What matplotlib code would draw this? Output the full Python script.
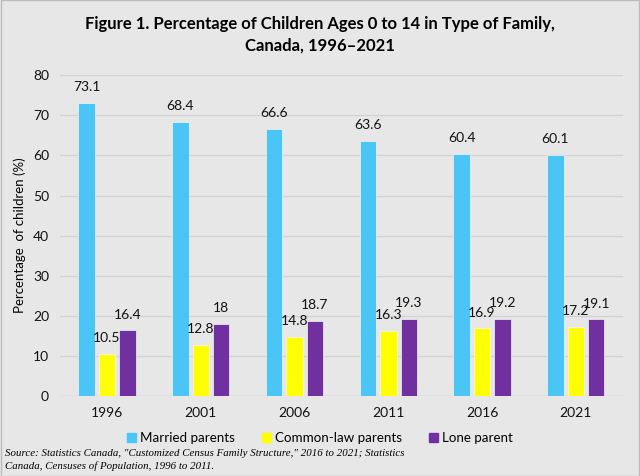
import numpy as np
import matplotlib
matplotlib.use('Agg')
import matplotlib.pyplot as plt
from matplotlib.patches import Patch

years = ['1996', '2001', '2006', '2011', '2016', '2021']
married = [73.1, 68.4, 66.6, 63.6, 60.4, 60.1]
common_law = [10.5, 12.8, 14.8, 16.3, 16.9, 17.2]
lone = [16.4, 18, 18.7, 19.3, 19.2, 19.1]
labels_married = ['73.1', '68.4', '66.6', '63.6', '60.4', '60.1']
labels_common = ['10.5', '12.8', '14.8', '16.3', '16.9', '17.2']
labels_lone = ['16.4', '18', '18.7', '19.3', '19.2', '19.1']
series_names = ['Married parents', 'Common-law parents', 'Lone parent']
colors = ['#4bc5f5', '#ffff00', '#7030a0']

plt.rcParams['font.family'] = ['Lato', 'DejaVu Sans']
bg = '#e7e7e7'

fig = plt.figure(figsize=(6.4, 4.76), dpi=100, facecolor=bg)
ax = fig.add_axes([0.094, 0.168, 0.879, 0.674])
ax.set_facecolor(bg)

x = np.arange(len(years))
w = 0.175
step = 0.218
for k, (vals, labs) in enumerate([(married, labels_married), (common_law, labels_common), (lone, labels_lone)]):
    bars = ax.bar(x + (k - 1) * step, vals, w, color=colors[k], edgecolor='#f4f4f4',
                  linewidth=0.5, zorder=3)
    ax.bar_label(bars, labels=labs, padding=7, fontsize=10, color='#111111')

ax.set_xlim(-0.5, len(years) - 0.5)
ax.set_ylim(0, 80)
ax.set_yticks(range(0, 81, 10))
ax.set_xticks(x)
ax.set_xticklabels(years)
ax.grid(axis='y', color='#d2d2d2', linewidth=0.9, zorder=0)
for s in ax.spines.values():
    s.set_visible(False)
ax.axhline(0, color='#d0d0d0', linewidth=0.9, zorder=2)
ax.tick_params(length=0, labelsize=10, colors='#111111')
ax.tick_params(axis='x', pad=8)
ax.tick_params(axis='y', pad=8)
ax.set_ylabel('Percentage  of children (%)', fontsize=9.5, labelpad=5)

fig.text(0.5, 0.927, 'Figure 1. Percentage of Children Ages 0 to 14 in Type of Family,\nCanada, 1996\u20132021',
         ha='center', va='center', fontsize=12, fontweight='bold', linespacing=1.45)

handles = [Patch(color=c) for c in colors]
fig.legend(handles, series_names, loc='center', bbox_to_anchor=(0.5, 0.08), ncol=3,
           frameon=False, fontsize=9.6, handlelength=0.7, handleheight=0.7,
           handletextpad=0.3, columnspacing=2.0)

fig.text(0.008, 0.033, 'Source: Statistics Canada, "Customized Census Family Structure," 2016 to 2021; Statistics\nCanada, Censuses of Population, 1996 to 2011.',
         ha='left', va='center', fontsize=7.8, style='italic', family='Liberation Serif',
         linespacing=1.4)

border = plt.Rectangle((0.001, 0.001), 0.998, 0.998, transform=fig.transFigure,
                       fill=False, edgecolor='#bdbdbd', linewidth=1)
fig.add_artist(border)

fig.savefig('out.png', dpi=100, facecolor=bg)
